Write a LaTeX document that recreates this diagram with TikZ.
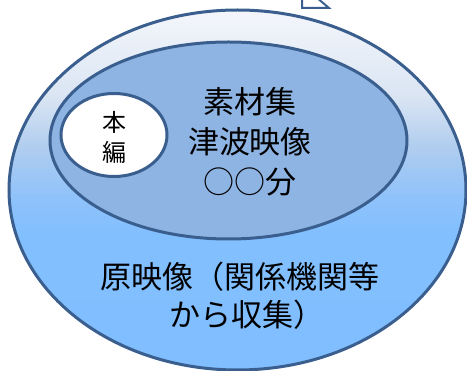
\documentclass[tikz,border=0pt]{standalone}
\usepackage{fontspec}
\newfontfamily\jp{Noto Sans CJK JP}
\definecolor{bord}{HTML}{3A5F8F}
\definecolor{innerfill}{HTML}{8EB4E3}
\definecolor{sA}{HTML}{80BEFF}
\definecolor{sB}{HTML}{82BFFF}
\definecolor{sC}{HTML}{8FC2FA}
\definecolor{sD}{HTML}{B0CDEF}
\definecolor{sE}{HTML}{DAE5F3}
\definecolor{sF}{HTML}{F4F6FB}
\pgfdeclareverticalshading{outershade}{100bp}{%
  color(0bp)=(sA);
  color(25bp)=(sA);
  color(44bp)=(sB);
  color(49bp)=(sC);
  color(56bp)=(sD);
  color(63bp)=(sE);
  color(75bp)=(sF);
  color(100bp)=(sF)}
\tikzset{
  edge/.style={draw=bord, line width=3pt},
  jptext/.style={font=\jp, align=center, text=black, inner sep=0pt}
}
\begin{document}
\begin{tikzpicture}[x=1pt, y=-1pt]
\useasboundingbox (0,0) rectangle (467,371);
\begin{scope}
\clip (0,0) rectangle (467,371);
% arrow fragment
\draw[draw=bord, line width=2pt, fill=white] (302,-3) -- (302,8) -- (329,8) -- (316,-3);
% outer ellipse
\path[edge, shading=outershade] (237.5,190) ellipse [x radius=228.5, y radius=180];
% inner ellipse
\path[edge, fill=innerfill] (228.5,140.5) ellipse [x radius=178.5, y radius=98.5];
% white ellipse
\path[edge, fill=white] (114,135) ellipse [x radius=53, y radius=41.5];
\end{scope}
\node[jptext, font=\jp\fontsize{24}{30}\selectfont] (hon) at (114,137) {本\\編};
\node[jptext, font=\jp\fontsize{31}{40}\selectfont] (sozai) at (250,142) {素材集\\津波映像\\○○分};
\node[jptext, font=\jp\fontsize{31}{38}\selectfont] (gen) at (240,296) {原映像（関係機関等\\\hspace*{14pt}から収集）};
\end{tikzpicture}
\end{document}
